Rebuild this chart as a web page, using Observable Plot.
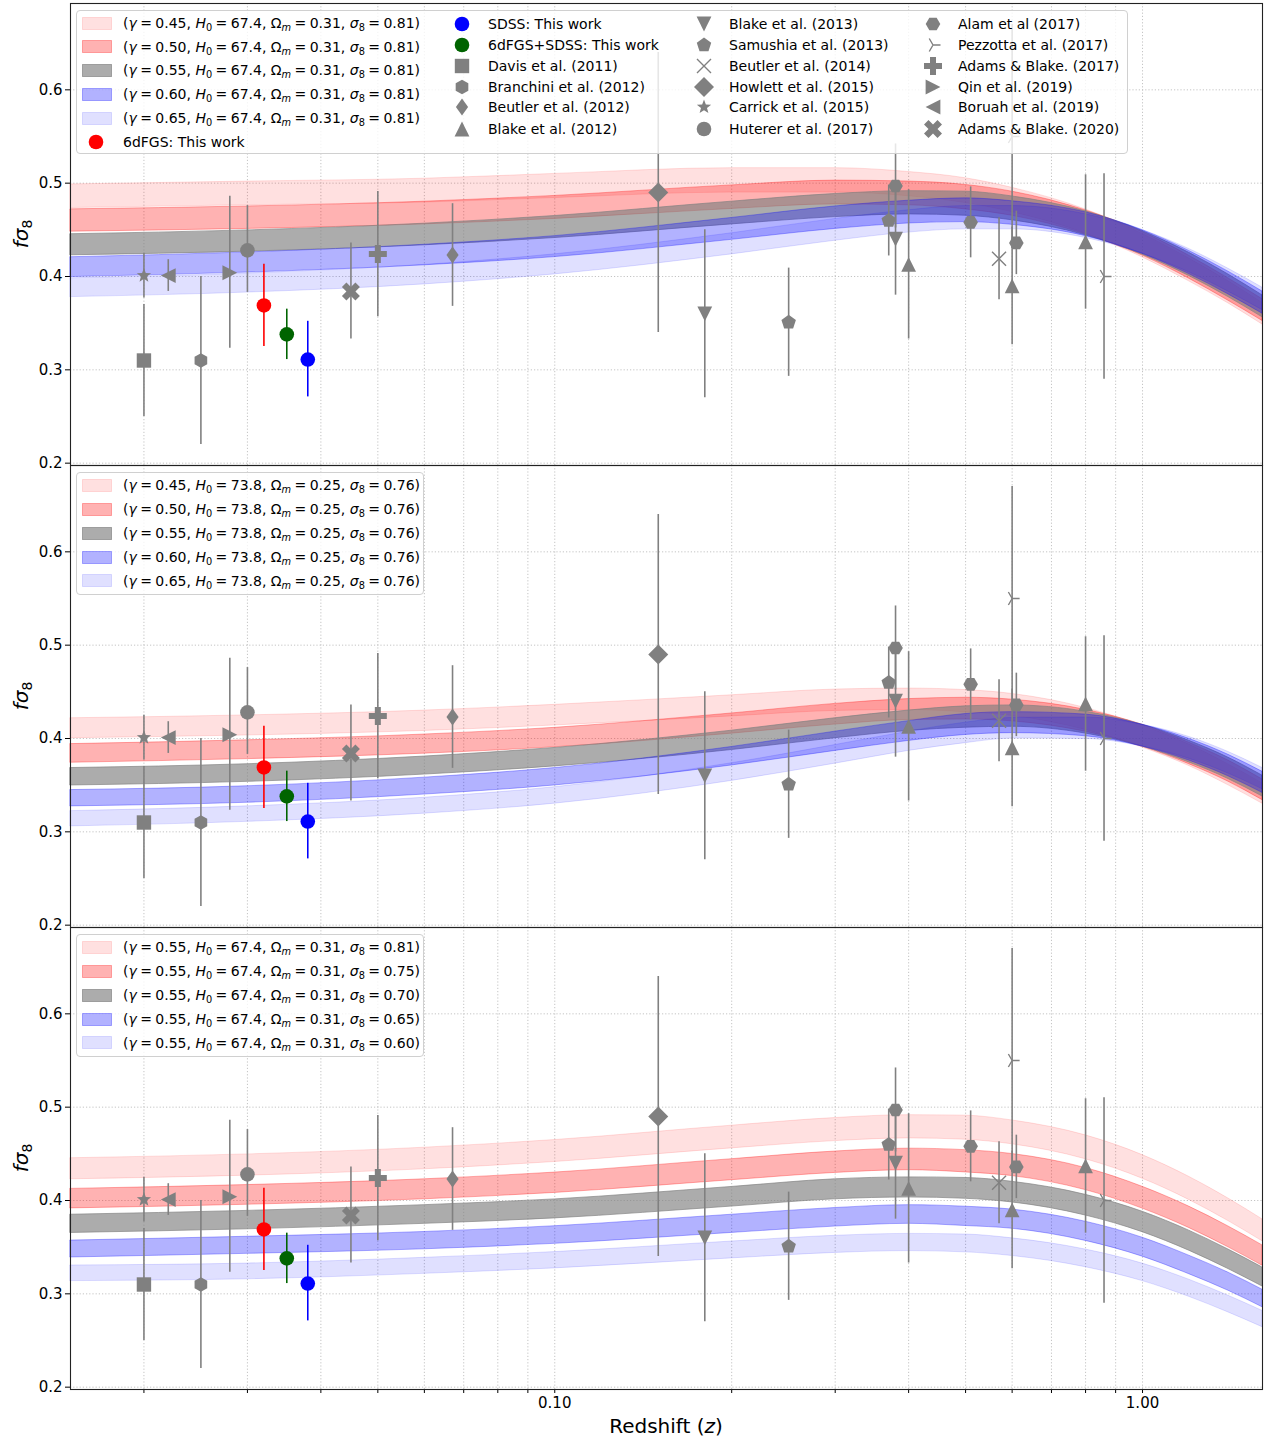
<!DOCTYPE html>
<html>
<head>
<meta charset="utf-8">
<script src="https://cdn.jsdelivr.net/npm/d3@7"></script>
<script src="https://cdn.jsdelivr.net/npm/@observablehq/plot@0.6"></script>
<style>
  body { margin: 0; background: #fff; font-family: "DejaVu Sans", sans-serif; }
  #wrap { position: relative; width: 1264px; height: 1439px; overflow: hidden; background: #fff; }
  #wrap > svg { position: absolute; left: 0; top: 0; }
  .legend { position: absolute; border: 1px solid #d0d0d0; border-radius: 4px; background: rgba(255,255,255,0.8); box-sizing: border-box; }
  .item { position: absolute; font-size: 14px; line-height: 16px; white-space: nowrap; color: #000; transform: translateY(-50%); }
  .item sub { font-size: 70%; vertical-align: -0.28em; line-height: 0; }
  .eq { margin: 0 0.245em; }
  .ic { position: absolute; width: 0; height: 0; }
  .ylab { position: absolute; font-size: 20px; white-space: nowrap; transform: translate(-50%, -50%) rotate(-90deg); }
  .ylab sub { font-size: 70%; vertical-align: -0.28em; line-height: 0; }
  .xlab { position: absolute; font-size: 20px; white-space: nowrap; transform: translate(-50%, -50%); }
</style>
</head>
<body>
<div id="wrap"></div>
<script>
// ---------------- data ----------------
const zGrid = [0.015, 0.03, 0.06, 0.1, 0.2, 0.3, 0.4, 0.5, 0.6, 0.8, 1.0, 1.2, 1.4, 1.6];
const bandHalfWidth = [0.026, 0.026, 0.026, 0.026, 0.026, 0.026, 0.026, 0.027, 0.027, 0.028, 0.029, 0.030, 0.031, 0.032];

// Panel 1: H0=67.4, Om=0.31, s8=0.81, gamma varies (band centres)
const p1_g045 = [0.486, 0.489, 0.492, 0.497, 0.503, 0.503, 0.499, 0.492, 0.482, 0.459, 0.433, 0.407, 0.383, 0.360];
const p1_g050 = [0.460, 0.463, 0.468, 0.474, 0.485, 0.490, 0.489, 0.485, 0.478, 0.458, 0.435, 0.410, 0.386, 0.364];
const p1_g055 = [0.434, 0.438, 0.445, 0.453, 0.468, 0.476, 0.479, 0.478, 0.473, 0.457, 0.436, 0.413, 0.390, 0.368];
const p1_g060 = [0.410, 0.415, 0.423, 0.432, 0.451, 0.463, 0.469, 0.471, 0.468, 0.456, 0.437, 0.415, 0.393, 0.372];
const p1_g065 = [0.388, 0.393, 0.402, 0.413, 0.435, 0.450, 0.459, 0.463, 0.463, 0.454, 0.437, 0.417, 0.396, 0.376];
// Panel 2: H0=73.8, Om=0.25, s8=0.76, gamma varies
const p2_g045 = [0.411, 0.414, 0.419, 0.425, 0.435, 0.441, 0.442, 0.440, 0.436, 0.421, 0.402, 0.382, 0.361, 0.341];
const p2_g050 = [0.384, 0.388, 0.394, 0.401, 0.416, 0.426, 0.431, 0.432, 0.430, 0.419, 0.403, 0.384, 0.365, 0.345];
const p2_g055 = [0.359, 0.363, 0.371, 0.380, 0.398, 0.411, 0.419, 0.423, 0.424, 0.417, 0.403, 0.386, 0.368, 0.349];
const p2_g060 = [0.336, 0.340, 0.349, 0.359, 0.381, 0.397, 0.408, 0.415, 0.417, 0.414, 0.403, 0.388, 0.371, 0.353];
const p2_g065 = [0.314, 0.319, 0.328, 0.339, 0.364, 0.383, 0.397, 0.406, 0.411, 0.411, 0.403, 0.390, 0.374, 0.357];
// Panel 3: gamma=0.55, H0=67.4, Om=0.31, s8 varies
const p3_s081 = [0.434, 0.438, 0.445, 0.453, 0.468, 0.476, 0.479, 0.478, 0.473, 0.457, 0.436, 0.413, 0.390, 0.368];
const p3_s075 = [0.402, 0.406, 0.412, 0.419, 0.433, 0.441, 0.444, 0.442, 0.438, 0.423, 0.403, 0.382, 0.361, 0.341];
const p3_s070 = [0.375, 0.379, 0.385, 0.391, 0.404, 0.412, 0.414, 0.413, 0.409, 0.395, 0.377, 0.357, 0.337, 0.318];
const p3_s065 = [0.348, 0.352, 0.357, 0.363, 0.375, 0.382, 0.385, 0.383, 0.380, 0.367, 0.350, 0.331, 0.313, 0.295];
const p3_s060 = [0.322, 0.324, 0.330, 0.336, 0.347, 0.353, 0.355, 0.354, 0.350, 0.338, 0.323, 0.306, 0.289, 0.273];

const panelBands = [
  [p1_g045, p1_g050, p1_g055, p1_g060, p1_g065],
  [p2_g045, p2_g050, p2_g055, p2_g060, p2_g065],
  [p3_s081, p3_s075, p3_s070, p3_s065, p3_s060]
];
const p1Gamma = ["0.45", "0.50", "0.55", "0.60", "0.65"];
const p2Gamma = ["0.45", "0.50", "0.55", "0.60", "0.65"];
const p3Sigma8 = ["0.81", "0.75", "0.70", "0.65", "0.60"];

// Measurements
const seriesNames = ["6dFGS: This work", "SDSS: This work", "6dFGS+SDSS: This work", "Davis et al. (2011)",
  "Branchini et al. (2012)", "Beutler et al. (2012)", "Blake et al. (2012)", "Blake et al. (2013)",
  "Samushia et al. (2013)", "Beutler et al. (2014)", "Howlett et al. (2015)", "Carrick et al. (2015)",
  "Huterer et al. (2017)", "Alam et al (2017)", "Pezzotta et al. (2017)", "Adams & Blake. (2017)",
  "Qin et al. (2019)", "Boruah et al. (2019)", "Adams & Blake. (2020)"];
const seriesSymbol = ["circle", "circle", "circle", "square", "hexagon1", "thin_diamond", "tri_up", "tri_down",
  "pentagon", "x_thin", "diamond", "star", "circle", "hexagon2", "tri3", "plus_filled", "tri_right", "tri_left", "x_filled"];
const seriesColor = ["#ff0000", "#0000ff", "#006400", "#808080", "#808080", "#808080", "#808080", "#808080",
  "#808080", "#808080", "#808080", "#808080", "#808080", "#808080", "#808080", "#808080", "#808080", "#808080", "#808080"];

const ptSeries = [0, 1, 2, 3, 4, 5, 6, 6, 6, 7, 7, 8, 8, 9, 10, 11, 12, 13, 13, 13, 14, 14, 15, 16, 17, 18];
const ptZ      = [0.032, 0.038, 0.035, 0.020, 0.025, 0.067, 0.40, 0.60, 0.80, 0.18, 0.38, 0.25, 0.37, 0.57, 0.15, 0.020, 0.030, 0.38, 0.51, 0.61, 0.60, 0.86, 0.050, 0.028, 0.022, 0.045];
const ptFs8    = [0.369, 0.311, 0.338, 0.310, 0.310, 0.423, 0.413, 0.390, 0.437, 0.360, 0.440, 0.351, 0.460, 0.419, 0.490, 0.401, 0.428, 0.497, 0.458, 0.436, 0.550, 0.400, 0.424, 0.404, 0.401, 0.384];
const ptErrLo  = [0.044, 0.040, 0.027, 0.060, 0.090, 0.055, 0.080, 0.063, 0.072, 0.090, 0.060, 0.058, 0.038, 0.044, 0.150, 0.024, 0.045, 0.045, 0.038, 0.034, 0.120, 0.110, 0.067, 0.081, 0.017, 0.051];
const ptErrHi  = [0.044, 0.041, 0.027, 0.060, 0.090, 0.055, 0.080, 0.063, 0.072, 0.090, 0.060, 0.058, 0.038, 0.044, 0.150, 0.024, 0.048, 0.045, 0.038, 0.034, 0.120, 0.110, 0.067, 0.082, 0.017, 0.052];

const xGridTicks = [0.02, 0.03, 0.04, 0.05, 0.06, 0.07, 0.08, 0.09, 0.1, 0.2, 0.3, 0.4, 0.5, 0.6, 0.7, 0.8, 0.9, 1.0];
const xTickLabels = {"0.1": "0.10", "1": "1.00"};
const yTicks = [0.2, 0.3, 0.4, 0.5, 0.6];

// ---------------- styles ----------------
const bandFill = ["rgba(255,0,0,0.12)", "rgba(255,0,0,0.30)", "rgba(128,128,128,0.65)", "rgba(0,0,255,0.30)", "rgba(0,0,255,0.12)"];
const symSize = {circle: 7.3, square: 7.2, tri_up: 7.4, tri_down: 7.4, tri_left: 7.4, tri_right: 7.4, diamond: 10,
  thin_diamond: 8.5, pentagon: 7.6, hexagon1: 7.3, hexagon2: 7.3, star: 7.5, plus_filled: 9, x_filled: 9, x_thin: 7, tri3: 7.5};
const strokeOnly = new Set(["x_thin", "tri3"]);

// ---------------- symbol geometry ----------------
function poly(c, pts) { c.moveTo(pts[0][0], pts[0][1]); for (let i = 1; i < pts.length; i++) c.lineTo(pts[i][0], pts[i][1]); c.closePath(); }
function regular(n, k, a0) { const out = []; for (let i = 0; i < n; i++) { const a = a0 + i * 2 * Math.PI / n; out.push([k * Math.cos(a), k * Math.sin(a)]); } return out; }
const SYM = {
  circle: (c, k) => { c.moveTo(k, 0); c.arc(0, 0, k, 0, 2 * Math.PI); c.closePath(); },
  square: (c, k) => poly(c, [[-k, -k], [k, -k], [k, k], [-k, k]]),
  tri_up: (c, k) => poly(c, [[0, -k], [k, k], [-k, k]]),
  tri_down: (c, k) => poly(c, [[0, k], [k, -k], [-k, -k]]),
  tri_left: (c, k) => poly(c, [[-k, 0], [k, -k], [k, k]]),
  tri_right: (c, k) => poly(c, [[k, 0], [-k, -k], [-k, k]]),
  diamond: (c, k) => poly(c, [[0, -k], [k, 0], [0, k], [-k, 0]]),
  thin_diamond: (c, k) => poly(c, [[0, -k], [0.72 * k, 0], [0, k], [-0.72 * k, 0]]),
  pentagon: (c, k) => poly(c, regular(5, k, -Math.PI / 2)),
  hexagon1: (c, k) => poly(c, regular(6, k, -Math.PI / 2)),
  hexagon2: (c, k) => poly(c, regular(6, k, 0)),
  star: (c, k) => { const pts = []; for (let i = 0; i < 10; i++) { const a = -Math.PI / 2 + i * Math.PI / 5; const r = i % 2 ? 0.42 * k : k; pts.push([r * Math.cos(a), r * Math.sin(a)]); } poly(c, pts); },
  plus_filled: (c, k) => { const a = k / 3; poly(c, [[-a, -k], [a, -k], [a, -a], [k, -a], [k, a], [a, a], [a, k], [-a, k], [-a, a], [-k, a], [-k, -a], [-a, -a]]); },
  x_filled: (c, k) => { const s = k / 2; poly(c, [[-1, -2], [0, -1], [1, -2], [2, -1], [1, 0], [2, 1], [1, 2], [0, 1], [-1, 2], [-2, 1], [-1, 0], [-2, -1]].map(([x, y]) => [x * s, y * s])); },
  x_thin: (c, k) => { c.moveTo(-k, -k); c.lineTo(k, k); c.moveTo(-k, k); c.lineTo(k, -k); },
  tri3: (c, k) => { c.moveTo(0, 0); c.lineTo(k, 0); c.moveTo(0, 0); c.lineTo(-0.5 * k, -0.866 * k); c.moveTo(0, 0); c.lineTo(-0.5 * k, 0.866 * k); }
};
const symbolObj = key => ({ draw(ctx, size) { SYM[key](ctx, Math.sqrt(size / Math.PI)); } });

// ---------------- tables ----------------
const bandRows = [];
panelBands.forEach((bands, p) => bands.forEach((centre, b) => centre.forEach((c, i) => {
  bandRows.push({ panel: p + 1, band: b, z: zGrid[i], lo: c * (1 - bandHalfWidth[i]), hi: c * (1 + bandHalfWidth[i]), fill: bandFill[b] });
})));
const points = ptSeries.map((s, i) => ({ series: s, z: ptZ[i], v: ptFs8[i], lo: ptFs8[i] - ptErrLo[i], hi: ptFs8[i] + ptErrHi[i], color: seriesColor[s] }));

// ---------------- marks ----------------
const marks = [
  Plot.ruleX(xGridTicks, { stroke: "#bdbdbd", strokeWidth: 0.9, strokeDasharray: "1.2,2" }),
  Plot.ruleY(yTicks, { stroke: "#bdbdbd", strokeWidth: 0.9, strokeDasharray: "1.2,2" }),
  Plot.areaY(bandRows, { x: "z", y1: "lo", y2: "hi", z: "band", fill: "fill", stroke: "fill", strokeWidth: 1, curve: "monotone-x" }),
  Plot.ruleX(points, { x: "z", y1: "lo", y2: "hi", stroke: "color", strokeWidth: 1.6 })
];
seriesNames.forEach((name, s) => {
  const key = seriesSymbol[s];
  const so = strokeOnly.has(key);
  marks.push(Plot.dot(points.filter(d => d.series === s), {
    x: "z", y: "v", symbol: symbolObj(key), r: symSize[key],
    fill: so ? "none" : seriesColor[s], stroke: so ? seriesColor[s] : "none", strokeWidth: so ? 1.4 : 0
  }));
});
marks.push(Plot.frame({ stroke: "#222", strokeWidth: 1.1 }));

const chart = Plot.plot({
  width: 1264, height: 1439,
  marginLeft: 70, marginRight: 2, marginTop: 3, marginBottom: 50,
  facet: { data: bandRows, y: "panel" },
  fy: { domain: [1, 2, 3], padding: 0, axis: null, label: null },
  x: { type: "log", domain: [0.015, 1.6], ticks: xGridTicks, tickFormat: d => xTickLabels[String(d)] || "", tickSize: 4, tickPadding: 4, label: null },
  y: { domain: [0.1975, 0.6925], ticks: yTicks, tickFormat: d3.format(".1f"), tickSize: 5, tickPadding: 3, label: null },
  color: { type: "identity" },
  style: { fontFamily: "DejaVu Sans, sans-serif", fontSize: "15px", color: "#000", background: "transparent", overflow: "visible" },
  marks
});
const wrap = document.getElementById("wrap");
wrap.appendChild(chart);

// ---------------- legends & labels (HTML) ----------------
function iconSvg(key, color) {
  const p = d3.path(); SYM[key](p, symSize[key]);
  const so = strokeOnly.has(key);
  return `<svg width="30" height="30" viewBox="-15 -15 30 30" style="position:absolute;left:-15px;top:-15px;overflow:visible"><path d="${p.toString()}" fill="${so ? "none" : color}" stroke="${so ? color : "none"}" stroke-width="1.4"/></svg>`;
}
function addBox(l, t, w, h) { const d = document.createElement("div"); d.className = "legend"; Object.assign(d.style, { left: l + "px", top: t + "px", width: w + "px", height: h + "px" }); wrap.appendChild(d); }
function addHtml(cls, x, y, html) { const d = document.createElement("div"); d.className = cls; d.style.left = x + "px"; d.style.top = y + "px"; d.innerHTML = html; wrap.appendChild(d); }
function addSwatch(y, fill) {
  addHtml("ic", 82, y, `<svg width="30" height="13" style="position:absolute;left:0;top:-6.5px;overflow:visible"><rect x="0.5" y="0.5" width="29" height="12" fill="${fill}" stroke="${fill}" stroke-width="1"/></svg>`);
}
const EQ = `<span class="eq">=</span>`;
const paramText = (g, h, om, s8) => `(<i>γ</i>${EQ}${g}, <i>H</i><sub>0</sub>${EQ}${h}, Ω<sub><i>m</i></sub>${EQ}${om}, <i>σ</i><sub>8</sub>${EQ}${s8})`;

// Panel 1 legend
addBox(76, 10, 1052, 144);
const p1Rows = [23, 46.7, 70.3, 94.2, 118, 141.5];
p1Gamma.forEach((g, i) => { addSwatch(p1Rows[i], bandFill[i]); addHtml("item", 123, p1Rows[i], paramText(g, "67.4", "0.31", "0.81")); });
addHtml("ic", 96, p1Rows[5], iconSvg("circle", seriesColor[0]));
addHtml("item", 123, p1Rows[5], seriesNames[0]);
const colRows = [23.5, 44.5, 65.7, 86.7, 107.3, 128.5];
const legendCols = [[1, 2, 3, 4, 5, 6], [7, 8, 9, 10, 11, 12], [13, 14, 15, 16, 17, 18]];
const colIconX = [462, 703.5, 932.5];
const colTextX = [488, 729, 958];
legendCols.forEach((col, ci) => col.forEach((s, ri) => {
  addHtml("ic", colIconX[ci], colRows[ri], iconSvg(seriesSymbol[s], seriesColor[s]));
  addHtml("item", colTextX[ci], colRows[ri], seriesNames[s]);
}));

// Panel 2 legend
addBox(76, 472, 348, 123);
const p2Rows = [485, 509, 533, 557, 580.5];
p2Gamma.forEach((g, i) => { addSwatch(p2Rows[i], bandFill[i]); addHtml("item", 123, p2Rows[i], paramText(g, "73.8", "0.25", "0.76")); });

// Panel 3 legend
addBox(76, 934, 348, 123);
const p3Rows = [947, 971, 995, 1019, 1042.5];
p3Sigma8.forEach((s8, i) => { addSwatch(p3Rows[i], bandFill[i]); addHtml("item", 123, p3Rows[i], paramText("0.55", "67.4", "0.31", s8)); });

// axis labels
[234, 696, 1158].forEach(y => addHtml("ylab", 21, y, `<i>fσ</i><sub>8</sub>`));
addHtml("xlab", 666, 1426, `Redshift (<i>z</i>)`);
</script>
</body>
</html>
